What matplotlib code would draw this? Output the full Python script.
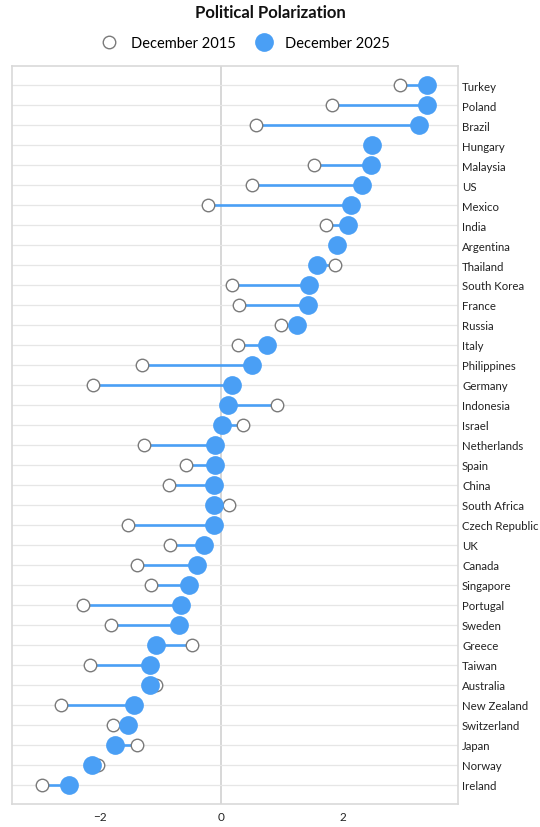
import matplotlib
matplotlib.use('Agg')
import matplotlib.pyplot as plt
from matplotlib.lines import Line2D
import numpy as np

plt.rcParams['font.family'] = ['Lato', 'DejaVu Sans']

countries = ['Turkey', 'Poland', 'Brazil', 'Hungary', 'Malaysia', 'US', 'Mexico',
             'India', 'Argentina', 'Thailand', 'South Korea', 'France', 'Russia',
             'Italy', 'Philippines', 'Germany', 'Indonesia', 'Israel', 'Netherlands',
             'Spain', 'China', 'South Africa', 'Czech Republic', 'UK', 'Canada',
             'Singapore', 'Portugal', 'Sweden', 'Greece', 'Taiwan', 'Australia',
             'New Zealand', 'Switzerland', 'Japan', 'Norway', 'Ireland']
dec2015 = [2.93, 1.81, 0.57, 2.45, 1.51, 0.50, -0.22, 1.72, 1.88, 1.86, 0.17, 0.29,
           0.98, 0.27, -1.31, -2.11, 0.91, 0.35, -1.27, -0.59, -0.86, 0.13, -1.54,
           -0.85, -1.38, -1.15, -2.28, -1.81, -0.48, -2.15, -1.07, -2.63, -1.78,
           -1.38, -2.03, -2.94]
dec2025 = [3.37, 3.37, 3.24, 2.47, 2.46, 2.30, 2.13, 2.08, 1.90, 1.56, 1.43, 1.42,
           1.24, 0.74, 0.50, 0.18, 0.10, 0.01, -0.10, -0.10, -0.12, -0.13, -0.13,
           -0.29, -0.41, -0.54, -0.66, -0.69, -1.07, -1.17, -1.17, -1.43, -1.53,
           -1.75, -2.13, -2.50]

blue = '#4a9ff5'
grey_edge = '#7a7a7a'

fig = plt.figure(figsize=(5.4, 8.28), dpi=100)
ax = fig.add_axes([0.022, 0.028, 0.826, 0.891])

y = np.arange(len(countries))
for i in y:
    ax.plot([dec2015[i], dec2025[i]], [i, i], color=blue, lw=1.9, zorder=2,
            solid_capstyle='butt')
ax.plot(dec2015, y, 'o', ms=9, mfc='white', mec=grey_edge, mew=1.0, zorder=3)
ax.plot(dec2025, y, 'o', ms=13.5, mfc=blue, mec=blue, mew=0, zorder=4)

ax.set_xlim(-3.44, 3.88)
ax.set_ylim(len(countries) - 0.05, -0.95)
ax.set_xticks([-2, 0, 2])
ax.set_xticklabels(['\u22122', '0', '2'])
ax.set_yticks(y)
ax.set_yticklabels(countries)
ax.yaxis.tick_right()
ax.tick_params(axis='y', length=0, pad=3, labelsize=8.2, labelcolor='#222222')
ax.tick_params(axis='x', length=0, pad=5, labelsize=8.5, labelcolor='#222222')

ax.grid(axis='y', color='#e6e6e6', lw=0.9, zorder=0)
ax.axvline(0, color='#d4d4d4', lw=1.3, zorder=1)
for s in ax.spines.values():
    s.set_color('#d9d9d9')
    s.set_linewidth(1.2)

fig.text(0.5, 0.984, 'Political Polarization', ha='center', va='center',
         fontsize=12, fontweight='bold', color='#111111')

handles = [Line2D([], [], ls='', marker='o', ms=9, mfc='white', mec=grey_edge, mew=1.0),
           Line2D([], [], ls='', marker='o', ms=13.5, mfc=blue, mec=blue, mew=0)]
fig.legend(handles, ['December 2015', 'December 2025'], loc='center',
           bbox_to_anchor=(0.449, 0.947), ncol=2, frameon=False, fontsize=10.5,
           handletextpad=0.5, columnspacing=0.9)

fig.savefig('out.png', dpi=100)
